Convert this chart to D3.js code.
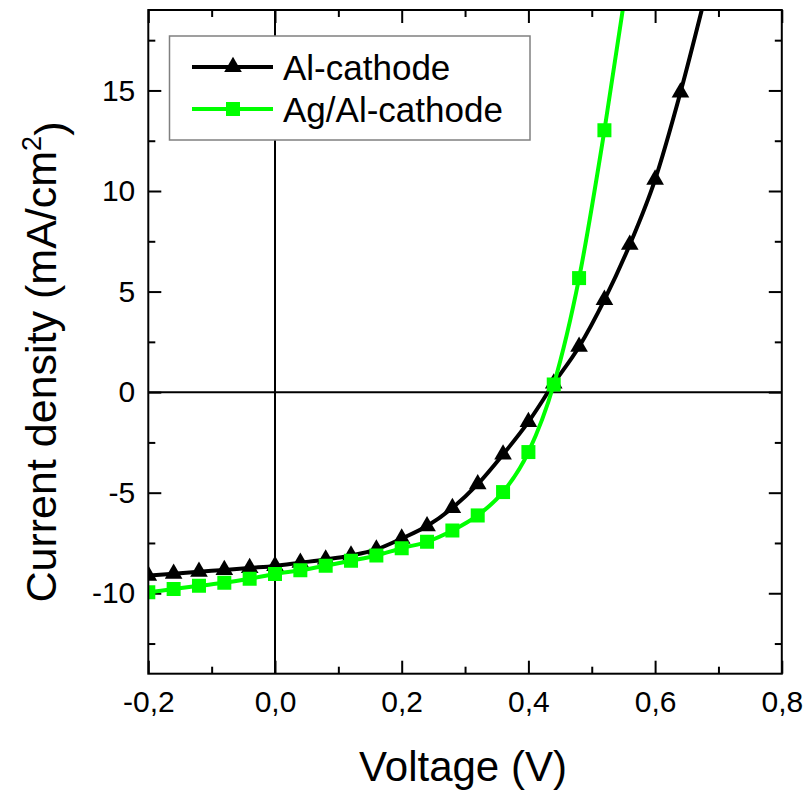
<!DOCTYPE html>
<html>
<head>
<meta charset="utf-8">
<script src="https://cdn.jsdelivr.net/npm/d3@7/dist/d3.min.js"></script>
<style>
  html, body { margin: 0; padding: 0; background: #fff; }
  svg { display: block; font-family: "Liberation Sans", Arial, sans-serif; }
</style>
</head>
<body>
<svg id="chart" width="808" height="794"></svg>
<script>
// J–V curves of two devices (current density vs. applied voltage)
const voltageAl = [-0.20, -0.16, -0.12, -0.08, -0.04, 0.00, 0.04, 0.08, 0.12, 0.16, 0.20,
                   0.24, 0.28, 0.32, 0.36, 0.40, 0.44, 0.48, 0.52, 0.56, 0.60, 0.64, 0.68];
const currentAl = [-9.12, -9.03, -8.93, -8.84, -8.74, -8.64, -8.48, -8.32, -8.12, -7.82, -7.28,
                   -6.66, -5.76, -4.58, -3.10, -1.48, 0.43, 2.26, 4.59, 7.33, 10.57, 14.90, 19.80];

const voltageAgAl = [-0.20, -0.16, -0.12, -0.08, -0.04, 0.00, 0.04, 0.08, 0.12, 0.16, 0.20,
                     0.24, 0.28, 0.32, 0.36, 0.40, 0.44, 0.48, 0.52, 0.56];
const currentAgAl = [-9.95, -9.79, -9.63, -9.48, -9.28, -9.04, -8.86, -8.63, -8.38, -8.12, -7.76,
                     -7.44, -6.88, -6.13, -4.97, -2.98, 0.38, 5.67, 13.02, 21.30];

const seriesNames = ["Al-cathode", "Ag/Al-cathode"];
const seriesColors = ["#000000", "#00ff00"];

const xMajorTicks = [-0.2, 0.0, 0.2, 0.4, 0.6, 0.8];
const xMinorTicks = [-0.1, 0.1, 0.3, 0.5, 0.7];
const yMajorTicks = [-10, -5, 0, 5, 10, 15];
const yMinorTicks = [-12.5, -7.5, -2.5, 2.5, 7.5, 12.5, 17.5];

const xTitle = "Voltage (V)";
const yTitleMain = "Current density (mA/cm";
const yTitleSup = "2";
const yTitleEnd = ")";

// ---- layout ----
const svg = d3.select("#chart");
const plotL = 148.3, plotR = 781.8, plotT = 10, plotB = 673.7;

const x = d3.scaleLinear().domain([-0.2, 0.8]).range([plotL, plotR]);
const y = d3.scaleLinear().domain([-14, 19]).range([plotB, plotT]);

const fmtLocale = d3.formatLocale({decimal: ",", thousands: ".", grouping: [3], currency: ["", ""], minus: "-"});
const xFmt = fmtLocale.format(".1f");
const yFmt = fmtLocale.format("d");

svg.append("defs").append("clipPath").attr("id", "plot-clip")
  .append("rect").attr("x", plotL).attr("y", plotT)
  .attr("width", plotR - plotL).attr("height", plotB - plotT);

// zero reference lines
svg.append("line").attr("x1", x(0)).attr("x2", x(0)).attr("y1", plotT).attr("y2", plotB)
  .attr("stroke", "#000").attr("stroke-width", 2);
svg.append("line").attr("x1", plotL).attr("x2", plotR).attr("y1", y(0)).attr("y2", y(0))
  .attr("stroke", "#000").attr("stroke-width", 2);

// ---- axes (ticks pointing inward on all four sides) ----
function styleAxis(g) {
  g.select(".domain").remove();
  g.selectAll(".tick line").attr("stroke", "#000").attr("stroke-width", 2);
  g.selectAll(".tick text").attr("fill", "#000").style("font-size", "30px")
    .style("font-family", "'Liberation Sans', Arial, sans-serif");
}

svg.append("g").attr("transform", `translate(0,${plotB})`)
  .call(d3.axisBottom(x).tickValues(xMajorTicks).tickFormat(xFmt).tickSizeInner(-13).tickSizeOuter(0).tickPadding(17))
  .call(styleAxis);
svg.append("g").attr("transform", `translate(0,${plotB})`)
  .call(d3.axisBottom(x).tickValues(xMinorTicks).tickFormat("").tickSizeInner(-7).tickSizeOuter(0))
  .call(styleAxis);
svg.append("g").attr("transform", `translate(0,${plotT})`)
  .call(d3.axisTop(x).tickValues(xMajorTicks).tickFormat("").tickSizeInner(-13).tickSizeOuter(0))
  .call(styleAxis);
svg.append("g").attr("transform", `translate(0,${plotT})`)
  .call(d3.axisTop(x).tickValues(xMinorTicks).tickFormat("").tickSizeInner(-7).tickSizeOuter(0))
  .call(styleAxis);

svg.append("g").attr("transform", `translate(${plotL},0)`)
  .call(d3.axisLeft(y).tickValues(yMajorTicks).tickFormat(yFmt).tickSizeInner(-13).tickSizeOuter(0).tickPadding(13))
  .call(styleAxis);
svg.append("g").attr("transform", `translate(${plotL},0)`)
  .call(d3.axisLeft(y).tickValues(yMinorTicks).tickFormat("").tickSizeInner(-7).tickSizeOuter(0))
  .call(styleAxis);
svg.append("g").attr("transform", `translate(${plotR},0)`)
  .call(d3.axisRight(y).tickValues(yMajorTicks).tickFormat("").tickSizeInner(-13).tickSizeOuter(0))
  .call(styleAxis);
svg.append("g").attr("transform", `translate(${plotR},0)`)
  .call(d3.axisRight(y).tickValues(yMinorTicks).tickFormat("").tickSizeInner(-7).tickSizeOuter(0))
  .call(styleAxis);

// ---- curves and markers ----
const line = d3.line().x(d => x(d[0])).y(d => y(d[1])).curve(d3.curveMonotoneX);
const triangle = d3.symbol().type(d3.symbolTriangle).size(135);
const square = d3.symbol().type(d3.symbolSquare).size(196);

const series = [
  {pts: d3.zip(voltageAl, currentAl), color: seriesColors[0], symbol: triangle},
  {pts: d3.zip(voltageAgAl, currentAgAl), color: seriesColors[1], symbol: square}
];

const plot = svg.append("g").attr("clip-path", "url(#plot-clip)");
series.forEach(s => {
  plot.append("path").datum(s.pts)
    .attr("d", line).attr("fill", "none")
    .attr("stroke", s.color).attr("stroke-width", 4).attr("stroke-linejoin", "round");
  plot.selectAll(null).data(s.pts).join("path")
    .attr("transform", d => `translate(${x(d[0])},${y(d[1])})`)
    .attr("d", s.symbol()).attr("fill", s.color);
});

// frame
svg.append("rect").attr("x", plotL).attr("y", plotT)
  .attr("width", plotR - plotL).attr("height", plotB - plotT)
  .attr("fill", "none").attr("stroke", "#000").attr("stroke-width", 2);

// ---- legend ----
const lg = svg.append("g");
lg.append("rect").attr("x", 169.5).attr("y", 36).attr("width", 360.5).attr("height", 104)
  .attr("fill", "#fff").attr("stroke", "#808080").attr("stroke-width", 1.5);
const legendRows = [67, 109];
series.forEach((s, i) => {
  const ly = legendRows[i];
  lg.append("line").attr("x1", 192).attr("x2", 273).attr("y1", ly).attr("y2", ly)
    .attr("stroke", s.color).attr("stroke-width", 4);
  lg.append("path").attr("transform", `translate(233,${ly})`).attr("d", s.symbol()).attr("fill", s.color);
  lg.append("text").attr("x", 283).attr("y", ly + 12.5)
    .style("font-size", "35px").attr("fill", "#000").text(seriesNames[i]);
});

// ---- axis titles ----
svg.append("text").attr("x", 463).attr("y", 781).attr("text-anchor", "middle")
  .style("font-size", "42px").attr("fill", "#000").text(xTitle);

const yt = svg.append("text").attr("transform", "translate(56,362) rotate(-90)")
  .attr("text-anchor", "middle").style("font-size", "43px").attr("fill", "#000");
yt.append("tspan").text(yTitleMain);
yt.append("tspan").attr("dy", "-0.55em").style("font-size", "27px").text(yTitleSup);
yt.append("tspan").attr("dy", "0.55em").text(yTitleEnd);
</script>
</body>
</html>
